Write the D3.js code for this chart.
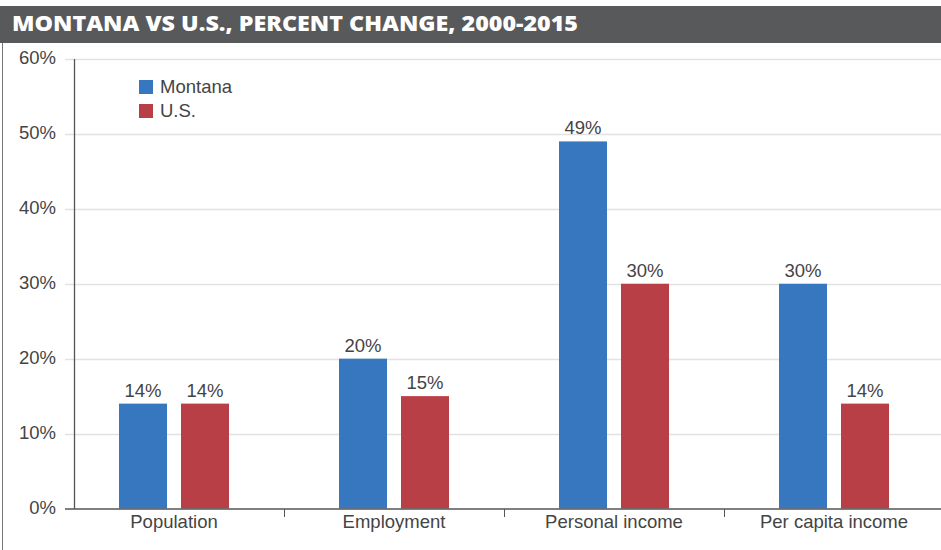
<!DOCTYPE html>
<html><head><meta charset="utf-8">
<script src="https://cdn.jsdelivr.net/npm/d3@7"></script>
<style>
body{margin:0;background:#fff;}
text{font-family:"Liberation Sans",Arial,sans-serif;}
</style></head>
<body><svg id="c" width="941" height="550"></svg>
<script>
const categories = ["Population","Employment","Personal income","Per capita income"];
const seriesNames = ["Montana","U.S."];
const montana = [14,20,49,30];
const us = [14,15,30,14];
const yTicks = [0,10,20,30,40,50,60];
const colors = ["#3677c0","#b93f46"];
const title = "MONTANA VS U.S., PERCENT CHANGE, 2000-2015";
const FS = "18.5px";

const svg = d3.select("#c");
svg.append("rect").attr("x",0).attr("y",6).attr("width",941).attr("height",37).attr("fill","#58595b");
svg.append("text").attr("x",12).attr("y",30.5).attr("fill","#fff")
  .attr("textLength",566).attr("lengthAdjust","spacingAndGlyphs")
  .style("font-family","'Open Sans', sans-serif").style("font-weight","800").style("font-size","20.5px")
  .text(title);
svg.append("line").attr("x1",2.5).attr("x2",2.5).attr("y1",43).attr("y2",550).attr("stroke","#777").attr("stroke-width",1);

const y = d3.scaleLinear().domain([0,60]).range([508.5,59]);
const x0 = d3.scaleBand().domain(categories).range([64,944]).padding(0);
const x1 = d3.scaleBand().domain(seriesNames).range([x0.bandwidth()/2-55, x0.bandwidth()/2+55]).paddingInner(14/62);

// gridlines
svg.append("g").selectAll("line").data(yTicks.filter(d=>d>0)).join("line")
  .attr("x1",65).attr("x2",941).attr("y1",d=>Math.round(y(d))+0.5).attr("y2",d=>Math.round(y(d))+0.5)
  .attr("stroke","#e2e2e2").attr("stroke-width",1.3);

// y labels
svg.append("g").selectAll("text").data(yTicks).join("text")
  .attr("x",56).attr("y",d=>y(d)+5).attr("text-anchor","end")
  .attr("fill","#444").style("font-size",FS).text(d=>d+"%");

// bars
const data = categories.map((c,i)=>({cat:c, vals:[{s:"Montana",v:montana[i]},{s:"U.S.",v:us[i]}]}));
const g = svg.append("g").selectAll("g").data(data).join("g")
  .attr("transform",d=>`translate(${x0(d.cat)},0)`);
g.selectAll("rect").data(d=>d.vals).join("rect")
  .attr("x",d=>x1(d.s)).attr("width",x1.bandwidth())
  .attr("y",d=>y(d.v)).attr("height",d=>y(0)-y(d.v))
  .attr("fill",(d,i)=>colors[i]);
g.selectAll("text").data(d=>d.vals).join("text")
  .attr("x",d=>x1(d.s)+x1.bandwidth()/2).attr("y",d=>y(d.v)-7)
  .attr("text-anchor","middle").attr("fill","#444").style("font-size",FS)
  .text(d=>d.v+"%");

// y axis line
svg.append("line").attr("x1",74.5).attr("x2",74.5).attr("y1",59).attr("y2",509).attr("stroke","#555").attr("stroke-width",1.3);
// x axis
const xAxis = d3.axisBottom(x0).tickSize(0).tickPadding(0);
const ax = svg.append("g").attr("transform","translate(0,509)").call(xAxis);
ax.select(".domain").remove();
ax.selectAll("text").attr("y",19).attr("dy",null).style("font-size",FS).attr("fill","#444")
  .style("font-family","'Liberation Sans',Arial,sans-serif");
svg.append("line").attr("x1",65).attr("x2",941).attr("y1",509).attr("y2",509).attr("stroke","#555").attr("stroke-width",1.3);
// category boundary ticks
svg.append("g").selectAll("line").data(categories.slice(1)).join("line")
  .attr("x1",d=>Math.round(x0(d))+0.5).attr("x2",d=>Math.round(x0(d))+0.5)
  .attr("y1",509).attr("y2",517).attr("stroke","#555").attr("stroke-width",1);

// legend
const lg = svg.append("g").selectAll("g").data(seriesNames).join("g")
  .attr("transform",(d,i)=>`translate(139,${80+i*24})`);
lg.append("rect").attr("width",14).attr("height",14).attr("fill",(d,i)=>colors[i]);
lg.append("text").attr("x",21).attr("y",13).attr("fill","#444").style("font-size",FS).text(d=>d);
</script></body></html>
